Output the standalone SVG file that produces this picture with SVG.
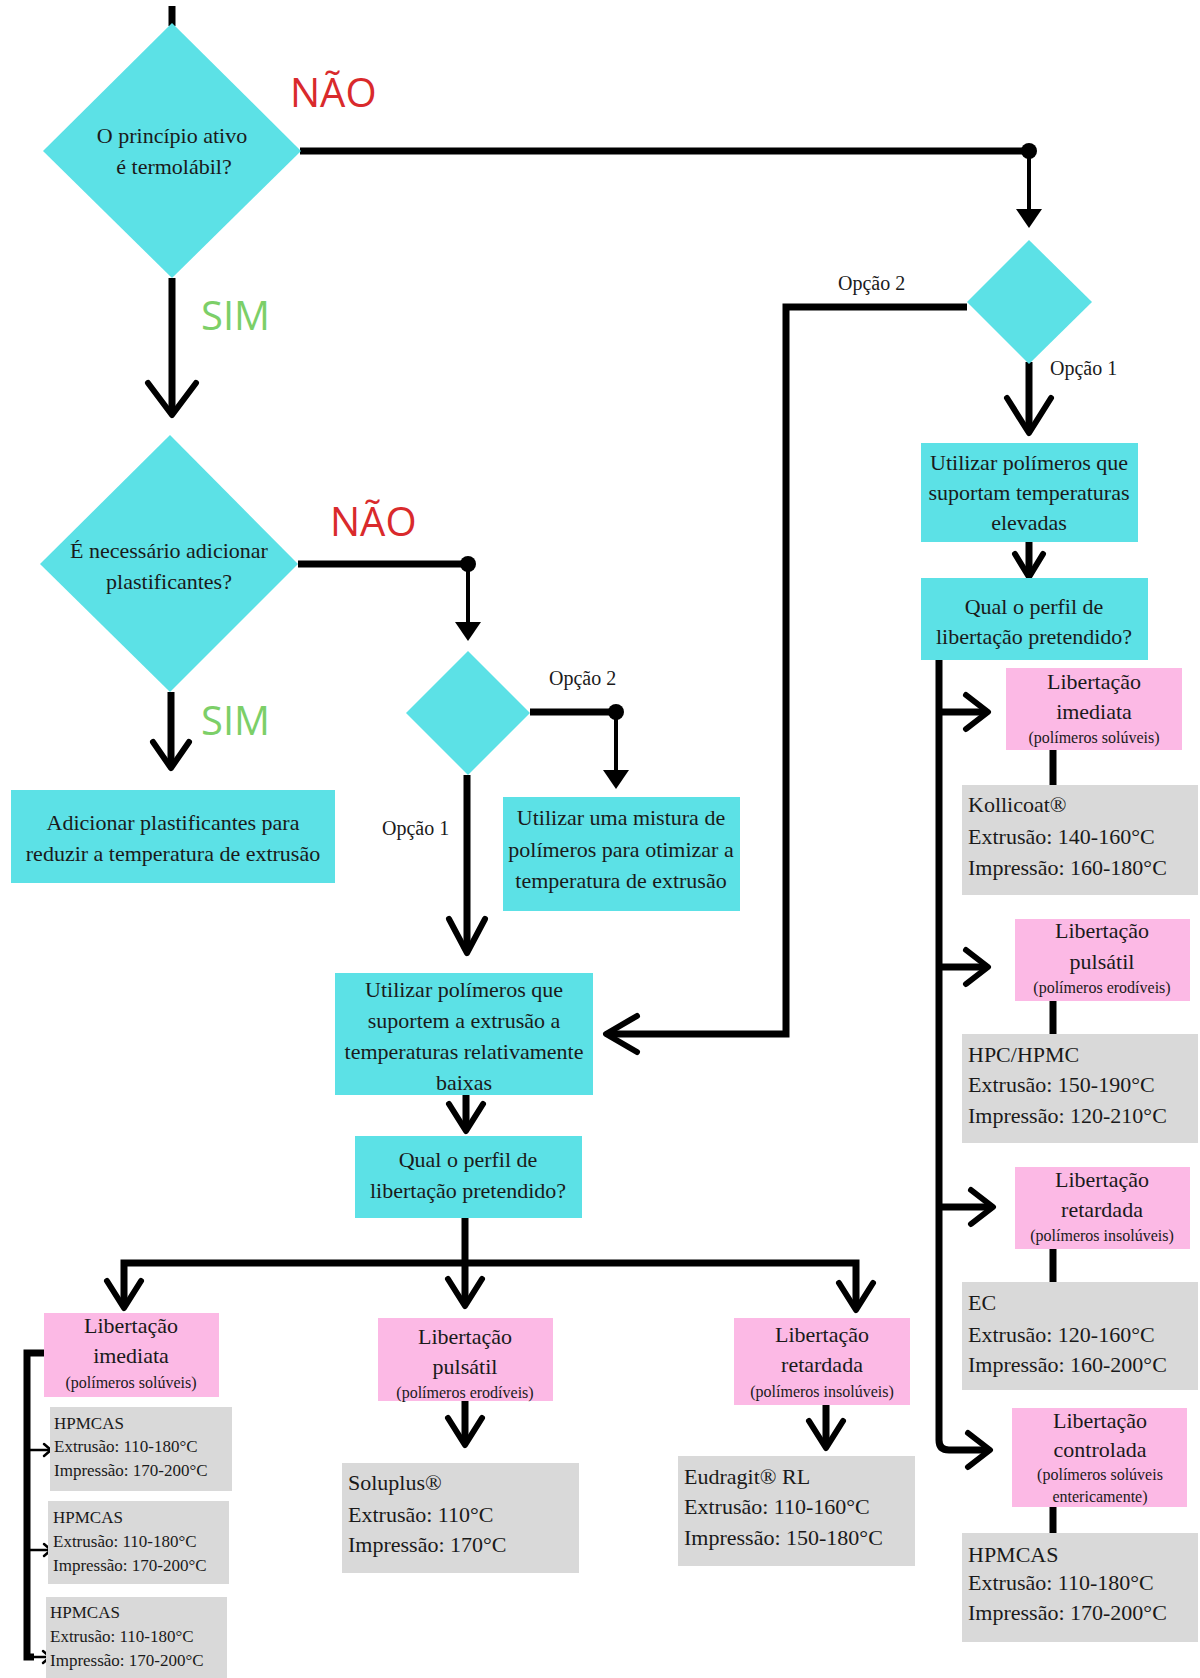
<svg xmlns="http://www.w3.org/2000/svg" width="1200" height="1678" viewBox="0 0 1200 1678">
<style>
.cy{fill:#5ce1e6}
.pk{fill:#fcb9e5}
.gr{fill:#d9d9d9}
.t{font-family:"Liberation Serif","Times New Roman",serif;fill:#1a1a1a}
.m{font-size:22px}
.s{font-size:16px}
.xs{font-size:17px}
.d{font-size:20px}
.dq{font-size:22px}
.no{font-family:"Open Sans","Noto Sans",sans-serif;font-size:40px;fill:#d92a2c}
.yes{font-family:"Open Sans","Noto Sans",sans-serif;font-size:40px;fill:#7ccf68}
.k{fill:none;stroke:#000;stroke-width:7}
.kc{fill:none;stroke:#000;stroke-width:6;stroke-linecap:round;stroke-linejoin:round}
.th{fill:none;stroke:#000;stroke-width:4}
.tn{fill:none;stroke:#000;stroke-width:2.5;stroke-linecap:round;stroke-linejoin:round}
</style>
<rect width="1200" height="1678" fill="#fff"/>

<g id="connectors">
  <line class="k" x1="172" y1="6" x2="172" y2="26"/>
  <line class="k" x1="172" y1="278" x2="172" y2="413"/>
  <path class="kc" d="M148,383 L172,415 L196,383"/>
  <line class="k" x1="300" y1="151" x2="1029" y2="151"/>
  <circle cx="1029" cy="151" r="8"/>
  <line class="th" x1="1029" y1="151" x2="1029" y2="212"/>
  <polygon points="1016,209 1042,209 1029,228"/>
  <line class="k" x1="1029" y1="362" x2="1029" y2="431"/>
  <path class="kc" d="M1007,398 L1029,433 L1051,398"/>
  <path class="k" d="M967,307 L786,307 L786,1034 L608,1034" stroke-linejoin="miter"/>
  <path class="kc" d="M637,1016 L606,1034 L637,1052"/>
  <line class="k" x1="1029" y1="542" x2="1029" y2="575"/>
  <path class="kc" d="M1015,554 L1029,577 L1043,554"/>
  <path class="k" d="M939,660 L939,1440 Q939,1450 949,1450 L988,1450"/>
  <line class="k" x1="939" y1="712" x2="986" y2="712"/>
  <line class="k" x1="939" y1="967" x2="986" y2="967"/>
  <line class="k" x1="939" y1="1207" x2="991" y2="1207"/>
  <path class="kc" d="M966,695 L988,712 L966,729"/>
  <path class="kc" d="M966,950 L988,967 L966,984"/>
  <path class="kc" d="M971,1190 L993,1207 L971,1224"/>
  <path class="kc" d="M968,1433 L990,1450 L968,1467"/>
  <line class="k" x1="1053" y1="750" x2="1053" y2="785"/>
  <line class="k" x1="1053" y1="1001" x2="1053" y2="1034"/>
  <line class="k" x1="1053" y1="1249" x2="1053" y2="1282"/>
  <line class="k" x1="1053" y1="1507" x2="1053" y2="1533"/>
  <line class="k" x1="171" y1="692" x2="171" y2="766"/>
  <path class="kc" d="M153,742 L171,768 L189,742"/>
  <line class="k" x1="298" y1="564" x2="468" y2="564"/>
  <circle cx="468" cy="564" r="8"/>
  <line class="th" x1="468" y1="564" x2="468" y2="625"/>
  <polygon points="455,622 481,622 468,641"/>
  <line class="k" x1="530" y1="712" x2="616" y2="712"/>
  <circle cx="616" cy="712" r="8"/>
  <line class="th" x1="616" y1="712" x2="616" y2="773"/>
  <polygon points="603,770 629,770 616,789"/>
  <line class="k" x1="467" y1="775" x2="467" y2="951"/>
  <path class="kc" d="M449,919 L467,953 L485,919"/>
  <line class="k" x1="466" y1="1095" x2="466" y2="1129"/>
  <path class="kc" d="M449,1104 L466,1131 L483,1104"/>
  <line class="k" x1="465" y1="1218" x2="465" y2="1263"/>
  <path class="k" d="M124,1306 L124,1263 L856,1263 L856,1306" stroke-linejoin="miter"/>
  <line class="k" x1="465" y1="1263" x2="465" y2="1304"/>
  <path class="kc" d="M107,1281 L124,1308 L141,1281"/>
  <path class="kc" d="M448,1279 L465,1306 L482,1279"/>
  <path class="kc" d="M839,1283 L856,1310 L873,1283"/>
  <line class="k" x1="465" y1="1401" x2="465" y2="1443"/>
  <path class="kc" d="M448,1418 L465,1445 L482,1418"/>
  <line class="k" x1="826" y1="1405" x2="826" y2="1446"/>
  <path class="kc" d="M809,1421 L826,1448 L843,1421"/>
  <path class="k" d="M44,1353 L27,1353 L27,1657 L34,1657" stroke-linejoin="miter"/>
  <line class="tn" x1="27" y1="1450" x2="51" y2="1450"/>
  <line class="tn" x1="27" y1="1550" x2="51" y2="1550"/>
  <line class="tn" x1="30" y1="1657" x2="50" y2="1657"/>
  <path class="tn" d="M44,1444 L51,1450 L44,1456"/>
  <path class="tn" d="M44,1544 L51,1550 L44,1556"/>
  <path class="tn" d="M43,1651 L50,1657 L43,1663"/>
</g>

<g id="d1">
  <polygon class="cy" points="172,23 301,151 172,278 43,151"/>
  <text class="t dq" text-anchor="middle" x="172" y="143">O princípio ativo</text>
  <text class="t dq" text-anchor="middle" x="174" y="174">é termolábil?</text>
</g>
<text class="no" x="290" y="107">NÃO</text>
<text class="yes" x="201" y="330">SIM</text>

<g id="d2">
  <polygon class="cy" points="170,435 298,564 170,692 40,564"/>
  <text class="t m" text-anchor="middle" x="169" y="558">É necessário adicionar</text>
  <text class="t m" text-anchor="middle" x="169" y="589">plastificantes?</text>
</g>
<text class="no" x="330" y="536">NÃO</text>
<text class="yes" x="201" y="735">SIM</text>

<g id="b-adicionar">
  <rect class="cy" x="11" y="790" width="324" height="93"/>
  <text class="t m" text-anchor="middle" x="173" y="830">Adicionar plastificantes para</text>
  <text class="t m" text-anchor="middle" x="173" y="861">reduzir a temperatura de extrusão</text>
</g>

<g id="d3">
  <polygon class="cy" points="468,651 530,713 468,775 406,713"/>
</g>
<text class="t d" x="549" y="685">Opção 2</text>
<text class="t d" x="382" y="835">Opção 1</text>

<g id="b-mistura">
  <rect class="cy" x="503" y="797" width="237" height="114"/>
  <text class="t m" text-anchor="middle" x="621" y="825">Utilizar uma mistura de</text>
  <text class="t m" text-anchor="middle" x="621" y="857">polímeros para otimizar a</text>
  <text class="t m" text-anchor="middle" x="621" y="888">temperatura de extrusão</text>
</g>

<g id="b-baixas">
  <rect class="cy" x="335" y="973" width="258" height="122"/>
  <text class="t m" text-anchor="middle" x="464" y="997">Utilizar polímeros que</text>
  <text class="t m" text-anchor="middle" x="464" y="1028">suportem a extrusão a</text>
  <text class="t m" text-anchor="middle" x="464" y="1059">temperaturas relativamente</text>
  <text class="t m" text-anchor="middle" x="464" y="1090">baixas</text>
</g>

<g id="b-qual-left">
  <rect class="cy" x="355" y="1136" width="227" height="82"/>
  <text class="t m" text-anchor="middle" x="468" y="1167">Qual o perfil de</text>
  <text class="t m" text-anchor="middle" x="468" y="1198">libertação pretendido?</text>
</g>

<g id="p-imediata-left">
  <rect class="pk" x="44" y="1313" width="175" height="84"/>
  <text class="t m" text-anchor="middle" x="131" y="1333">Libertação</text>
  <text class="t m" text-anchor="middle" x="131" y="1363">imediata</text>
  <text class="t s" text-anchor="middle" x="131" y="1388">(polímeros solúveis)</text>
</g>

<g id="g-left1">
  <rect class="gr" x="50" y="1407" width="182" height="84"/>
  <text class="t xs" x="54" y="1429">HPMCAS</text>
  <text class="t xs" x="54" y="1452">Extrusão: 110-180°C</text>
  <text class="t xs" x="54" y="1476">Impressão: 170-200°C</text>
</g>
<g id="g-left2">
  <rect class="gr" x="48" y="1501" width="181" height="83"/>
  <text class="t xs" x="53" y="1523">HPMCAS</text>
  <text class="t xs" x="53" y="1547">Extrusão: 110-180°C</text>
  <text class="t xs" x="53" y="1571">Impressão: 170-200°C</text>
</g>
<g id="g-left3">
  <rect class="gr" x="46" y="1597" width="181" height="81"/>
  <text class="t xs" x="50" y="1618">HPMCAS</text>
  <text class="t xs" x="50" y="1642">Extrusão: 110-180°C</text>
  <text class="t xs" x="50" y="1666">Impressão: 170-200°C</text>
</g>

<g id="p-pulsatil-mid">
  <rect class="pk" x="378" y="1318" width="175" height="83"/>
  <text class="t m" text-anchor="middle" x="465" y="1344">Libertação</text>
  <text class="t m" text-anchor="middle" x="465" y="1374">pulsátil</text>
  <text class="t s" text-anchor="middle" x="465" y="1398">(polímeros erodíveis)</text>
</g>

<g id="g-soluplus">
  <rect class="gr" x="342" y="1463" width="237" height="110"/>
  <text class="t m" x="348" y="1490">Soluplus®</text>
  <text class="t m" x="348" y="1522">Extrusão: 110°C</text>
  <text class="t m" x="348" y="1552">Impressão: 170°C</text>
</g>

<g id="p-retardada-mid">
  <rect class="pk" x="734" y="1318" width="176" height="87"/>
  <text class="t m" text-anchor="middle" x="822" y="1342">Libertação</text>
  <text class="t m" text-anchor="middle" x="822" y="1372">retardada</text>
  <text class="t s" text-anchor="middle" x="822" y="1397">(polímeros insolúveis)</text>
</g>

<g id="g-eudragit">
  <rect class="gr" x="678" y="1456" width="237" height="110"/>
  <text class="t m" x="684" y="1484">Eudragit® RL</text>
  <text class="t m" x="684" y="1514">Extrusão: 110-160°C</text>
  <text class="t m" x="684" y="1545">Impressão: 150-180°C</text>
</g>

<g id="d4">
  <polygon class="cy" points="1029,240 1092,302 1029,364 967,302"/>
</g>
<text class="t d" x="838" y="290">Opção 2</text>
<text class="t d" x="1050" y="375">Opção 1</text>

<g id="b-elevadas">
  <rect class="cy" x="921" y="443" width="217" height="99"/>
  <text class="t m" text-anchor="middle" x="1029" y="470">Utilizar polímeros que</text>
  <text class="t m" text-anchor="middle" x="1029" y="500">suportam temperaturas</text>
  <text class="t m" text-anchor="middle" x="1029" y="530">elevadas</text>
</g>

<g id="b-qual-right">
  <rect class="cy" x="921" y="578" width="227" height="82"/>
  <text class="t m" text-anchor="middle" x="1034" y="614">Qual o perfil de</text>
  <text class="t m" text-anchor="middle" x="1034" y="644">libertação pretendido?</text>
</g>

<g id="p-imediata-right">
  <rect class="pk" x="1006" y="668" width="176" height="82"/>
  <text class="t m" text-anchor="middle" x="1094" y="689">Libertação</text>
  <text class="t m" text-anchor="middle" x="1094" y="719">imediata</text>
  <text class="t s" text-anchor="middle" x="1094" y="743">(polímeros solúveis)</text>
</g>
<g id="g-kollicoat">
  <rect class="gr" x="962" y="785" width="236" height="110"/>
  <text class="t m" x="968" y="812">Kollicoat®</text>
  <text class="t m" x="968" y="844">Extrusão: 140-160°C</text>
  <text class="t m" x="968" y="875">Impressão: 160-180°C</text>
</g>

<g id="p-pulsatil-right">
  <rect class="pk" x="1015" y="919" width="175" height="82"/>
  <text class="t m" text-anchor="middle" x="1102" y="938">Libertação</text>
  <text class="t m" text-anchor="middle" x="1102" y="969">pulsátil</text>
  <text class="t s" text-anchor="middle" x="1102" y="993">(polímeros erodíveis)</text>
</g>
<g id="g-hpc">
  <rect class="gr" x="962" y="1034" width="236" height="109"/>
  <text class="t m" x="968" y="1062">HPC/HPMC</text>
  <text class="t m" x="968" y="1092">Extrusão: 150-190°C</text>
  <text class="t m" x="968" y="1123">Impressão: 120-210°C</text>
</g>

<g id="p-retardada-right">
  <rect class="pk" x="1015" y="1167" width="175" height="82"/>
  <text class="t m" text-anchor="middle" x="1102" y="1187">Libertação</text>
  <text class="t m" text-anchor="middle" x="1102" y="1217">retardada</text>
  <text class="t s" text-anchor="middle" x="1102" y="1241">(polímeros insolúveis)</text>
</g>
<g id="g-ec">
  <rect class="gr" x="962" y="1282" width="236" height="108"/>
  <text class="t m" x="968" y="1310">EC</text>
  <text class="t m" x="968" y="1342">Extrusão: 120-160°C</text>
  <text class="t m" x="968" y="1372">Impressão: 160-200°C</text>
</g>

<g id="p-controlada-right">
  <rect class="pk" x="1012" y="1408" width="175" height="99"/>
  <text class="t m" text-anchor="middle" x="1100" y="1428">Libertação</text>
  <text class="t m" text-anchor="middle" x="1100" y="1457">controlada</text>
  <text class="t s" text-anchor="middle" x="1100" y="1480">(polímeros solúveis</text>
  <text class="t s" text-anchor="middle" x="1100" y="1502">entericamente)</text>
</g>
<g id="g-hpmcas-right">
  <rect class="gr" x="962" y="1533" width="236" height="109"/>
  <text class="t m" x="968" y="1562">HPMCAS</text>
  <text class="t m" x="968" y="1590">Extrusão: 110-180°C</text>
  <text class="t m" x="968" y="1620">Impressão: 170-200°C</text>
</g>
</svg>
